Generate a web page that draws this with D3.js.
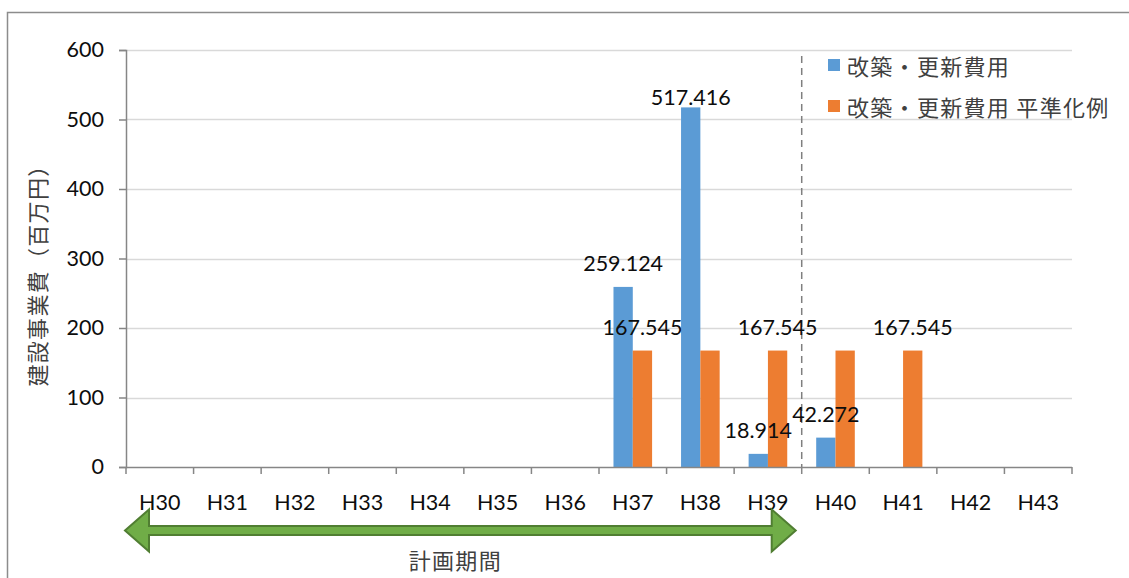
<!DOCTYPE html>
<html>
<head>
<meta charset="utf-8">
<script src="https://cdn.jsdelivr.net/npm/d3@7"></script>
<style>
  html, body { margin: 0; padding: 0; background: #fff; }
  svg { display: block; font-family: Lato, "Noto Sans CJK JP", sans-serif; }
</style>
</head>
<body>
<svg id="chart" width="1129" height="578"></svg>
<script>
// 年度（平成）
const categories = ["H30","H31","H32","H33","H34","H35","H36","H37","H38","H39","H40","H41","H42","H43"];
// 改築・更新費用（百万円）
const renewalCost = [0,0,0,0,0,0,0,259.124,517.416,18.914,42.272,0,0,0];
// 改築・更新費用 平準化例（百万円）
const leveledCost = [0,0,0,0,0,0,0,167.545,167.545,167.545,167.545,167.545,0,0];
// 値ラベルを表示する年度
const renewalLabeled = ["H37","H38","H39","H40"];
const leveledLabeled = ["H37","H39","H41"];
const yTicks = [0,100,200,300,400,500,600];
const seriesNames = ["改築・更新費用", "改築・更新費用 平準化例"];
const planStart = "H30", planEnd = "H39";
const yTitle = "建設事業費（百万円）";
const planLabel = "計画期間";

const colors = ["#5b9bd5", "#ed7d31"];
const numFont = 21.5, jpFont = 22;
const svg = d3.select("#chart");

// chart frame
svg.append("path")
  .attr("d", "M7.5,578 V12.5 H1129")
  .attr("fill", "none").attr("stroke", "#8c8c8c").attr("stroke-width", 1.5);

const plot = { left: 126, right: 1072, top: 50, bottom: 467 };

const x0 = d3.scaleBand().domain(categories).range([plot.left, plot.right]).padding(0);
const step = x0.bandwidth();
const barW = step / 3.5;
const x1 = d3.scaleBand().domain([0, 1]).range([barW * 0.75, step - barW * 0.75]).padding(0);
const y = d3.scaleLinear().domain([0, 600]).range([plot.bottom, plot.top]);

// gridlines
svg.append("g").selectAll("line").data(yTicks.filter(d => d > 0)).join("line")
  .attr("x1", plot.left).attr("x2", plot.right)
  .attr("y1", d => Math.round(y(d)) + 0.5).attr("y2", d => Math.round(y(d)) + 0.5)
  .attr("stroke", "#d9d9d9").attr("stroke-width", 1.5);

// y axis
const yAxis = svg.append("g").attr("transform", `translate(${plot.left},0)`)
  .call(d3.axisLeft(y).tickValues(yTicks).tickSize(7).tickPadding(15));
yAxis.select(".domain").attr("stroke", "#868686").attr("stroke-width", 1.5);
yAxis.selectAll(".tick line").attr("stroke", "#868686").attr("stroke-width", 1.5);
yAxis.selectAll(".tick text").attr("font-size", numFont).attr("fill", "#0d0d0d")
  .attr("font-family", "Lato, sans-serif");

// bars
const series = [renewalCost, leveledCost];
series.forEach((vals, s) => {
  svg.append("g").selectAll("rect").data(categories.map((c, i) => ({ c, v: vals[i] })).filter(d => d.v > 0))
    .join("rect")
    .attr("x", d => x0(d.c) + x1(s))
    .attr("width", x1.bandwidth())
    .attr("y", d => y(d.v))
    .attr("height", d => y(0) - y(d.v))
    .attr("fill", colors[s]);
});

// x axis: baseline and boundary ticks
svg.append("line")
  .attr("x1", plot.left).attr("x2", plot.right)
  .attr("y1", plot.bottom + 0.5).attr("y2", plot.bottom + 0.5)
  .attr("stroke", "#868686").attr("stroke-width", 1.5);
const bounds = categories.map(c => x0(c)).concat([x0(categories[categories.length - 1]) + step]);
svg.append("g").selectAll("line").data(bounds).join("line")
  .attr("x1", d => d).attr("x2", d => d)
  .attr("y1", plot.bottom).attr("y2", plot.bottom + 7)
  .attr("stroke", "#868686").attr("stroke-width", 1.5);
svg.append("g").selectAll("text").data(categories).join("text")
  .attr("x", d => x0(d) + step / 2)
  .attr("y", 502)
  .attr("text-anchor", "middle").attr("dominant-baseline", "central")
  .attr("font-size", numFont).attr("fill", "#0d0d0d")
  .text(d => d);

// end of plan period (dashed divider)
const divX = x0(planEnd) + step;
svg.append("line")
  .attr("x1", divX).attr("x2", divX)
  .attr("y1", 56).attr("y2", plot.bottom)
  .attr("stroke", "#7f7f7f").attr("stroke-width", 1.5)
  .attr("stroke-dasharray", "7,5");

// data labels
function labelGap(v) { return v > 500 ? 10 : 24; }
const labelSets = [renewalLabeled, leveledLabeled];
labelSets.forEach((cats, s) => {
  svg.append("g").selectAll("text").data(cats).join("text")
    .attr("x", c => x0(c) + x1(s) + x1.bandwidth() / 2)
    .attr("y", c => { const v = series[s][categories.indexOf(c)]; return y(v) - labelGap(v); })
    .attr("text-anchor", "middle").attr("dominant-baseline", "central")
    .attr("font-size", numFont).attr("fill", "#0d0d0d")
    .text(c => series[s][categories.indexOf(c)].toFixed(3));
});

// legend
const legend = svg.append("g");
seriesNames.forEach((name, i) => {
  const ly = 65 + i * 41;
  legend.append("rect").attr("x", 828).attr("y", ly - 6).attr("width", 12).attr("height", 12).attr("fill", colors[i]);
  legend.append("text").attr("x", 847).attr("y", ly)
    .attr("dominant-baseline", "central")
    .attr("font-size", jpFont).attr("fill", "#404040")
    .attr("letter-spacing", 1.3)
    .attr("font-family", "'Noto Sans CJK JP', sans-serif")
    .text(name);
});

// y axis title
svg.append("text")
  .attr("transform", `translate(36,${270}) rotate(-90)`)
  .attr("text-anchor", "middle").attr("dominant-baseline", "central")
  .attr("font-size", jpFont).attr("fill", "#404040")
  .attr("letter-spacing", 1.3)
  .attr("font-family", "'Noto Sans CJK JP', sans-serif")
  .text(yTitle);

// plan period arrow
const ax1 = x0(planStart) - 1, ax2 = x0(planEnd) + step - 6;
const ay = 530.5, head = 24, shaftH = 4.5, headH = 21;
const arrowPath = [
  [ax1, ay], [ax1 + head, ay - headH], [ax1 + head, ay - shaftH],
  [ax2 - head, ay - shaftH], [ax2 - head, ay - headH], [ax2, ay],
  [ax2 - head, ay + headH], [ax2 - head, ay + shaftH],
  [ax1 + head, ay + shaftH], [ax1 + head, ay + headH]
];
svg.append("path")
  .attr("d", d3.line()(arrowPath) + "Z")
  .attr("fill", "#70ad47").attr("stroke", "#507e32").attr("stroke-width", 2)
  .attr("stroke-linejoin", "miter");
svg.append("text")
  .attr("x", (ax1 + ax2) / 2 - 5).attr("y", 559)
  .attr("text-anchor", "middle").attr("dominant-baseline", "central")
  .attr("font-size", jpFont).attr("fill", "#404040")
  .attr("letter-spacing", 1.3)
  .attr("font-family", "'Noto Sans CJK JP', sans-serif")
  .text(planLabel);
</script>
</body>
</html>
